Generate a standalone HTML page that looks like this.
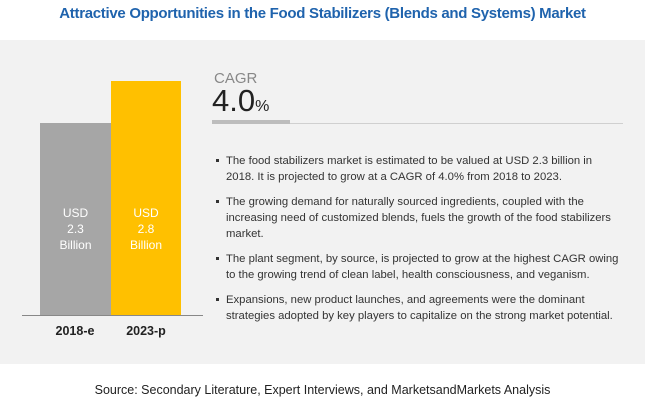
<!DOCTYPE html>
<html><head><style>
body{margin:0;width:645px;height:403px;background:#fff;position:relative;overflow:hidden;font-family:"Liberation Sans",sans-serif}
.a{position:absolute}
.panel{left:0;top:40px;width:645px;height:324px;background:#f2f2f2}
.title{left:0;width:645px;top:5px;text-align:center;color:#1f63ad;font-weight:bold;font-size:15px;letter-spacing:-0.3px}
.bar{position:absolute;color:#fff;font-size:12px;text-align:center;line-height:16px;box-sizing:border-box}
.lbl{font-size:12.5px;font-weight:bold;color:#222;top:324px;width:70px;text-align:center}
.b{left:216px;width:405px;font-size:11.3px;line-height:16px;color:#333}
.b:before{content:"";position:absolute;left:0;top:6px;width:3px;height:3px;background:#333}
.b span{display:block;padding-left:10px}
</style></head><body>
<div class="a title">Attractive Opportunities in the Food Stabilizers (Blends and Systems) Market</div>
<div class="a panel"></div>
<div class="bar" style="left:40px;top:123px;width:71px;height:192px;background:#a6a6a6;padding-top:82px">USD<br>2.3<br>Billion</div>
<div class="bar" style="left:111px;top:81px;width:70px;height:234px;background:#ffc000;padding-top:124px">USD<br>2.8<br>Billion</div>
<div class="a" style="left:22px;top:315px;width:181px;height:1px;background:#888"></div>
<div class="a lbl" style="left:40px">2018-e</div>
<div class="a lbl" style="left:111px">2023-p</div>
<div class="a" style="left:214px;top:70px;font-size:15px;color:#888">CAGR</div>
<div class="a" style="left:212px;top:83px;font-size:31px;color:#222">4.0<span style="font-size:16px">%</span></div>
<div class="a" style="left:212px;top:120px;width:78px;height:4px;background:#bdbdbd"></div>
<div class="a" style="left:290px;top:123px;width:333px;height:1px;background:#d0d0d0"></div>
<div class="a b" style="top:153px"><span>The food stabilizers market is estimated to be valued at USD 2.3 billion in 2018. It is projected to grow at a CAGR of 4.0% from 2018 to 2023.</span></div>
<div class="a b" style="top:194px"><span>The growing demand for naturally sourced ingredients, coupled with the increasing need of customized blends, fuels the growth of the food stabilizers market.</span></div>
<div class="a b" style="top:251px"><span>The plant segment, by source, is projected to grow at the highest CAGR owing to the growing trend of clean label, health consciousness, and veganism.</span></div>
<div class="a b" style="top:292px"><span>Expansions, new product launches, and agreements were the dominant strategies adopted by key players to capitalize on the strong market potential.</span></div>
<div class="a" style="left:0;width:645px;top:383px;text-align:center;font-size:12.5px;color:#222">Source: Secondary Literature, Expert Interviews, and MarketsandMarkets Analysis</div>
</body></html>
